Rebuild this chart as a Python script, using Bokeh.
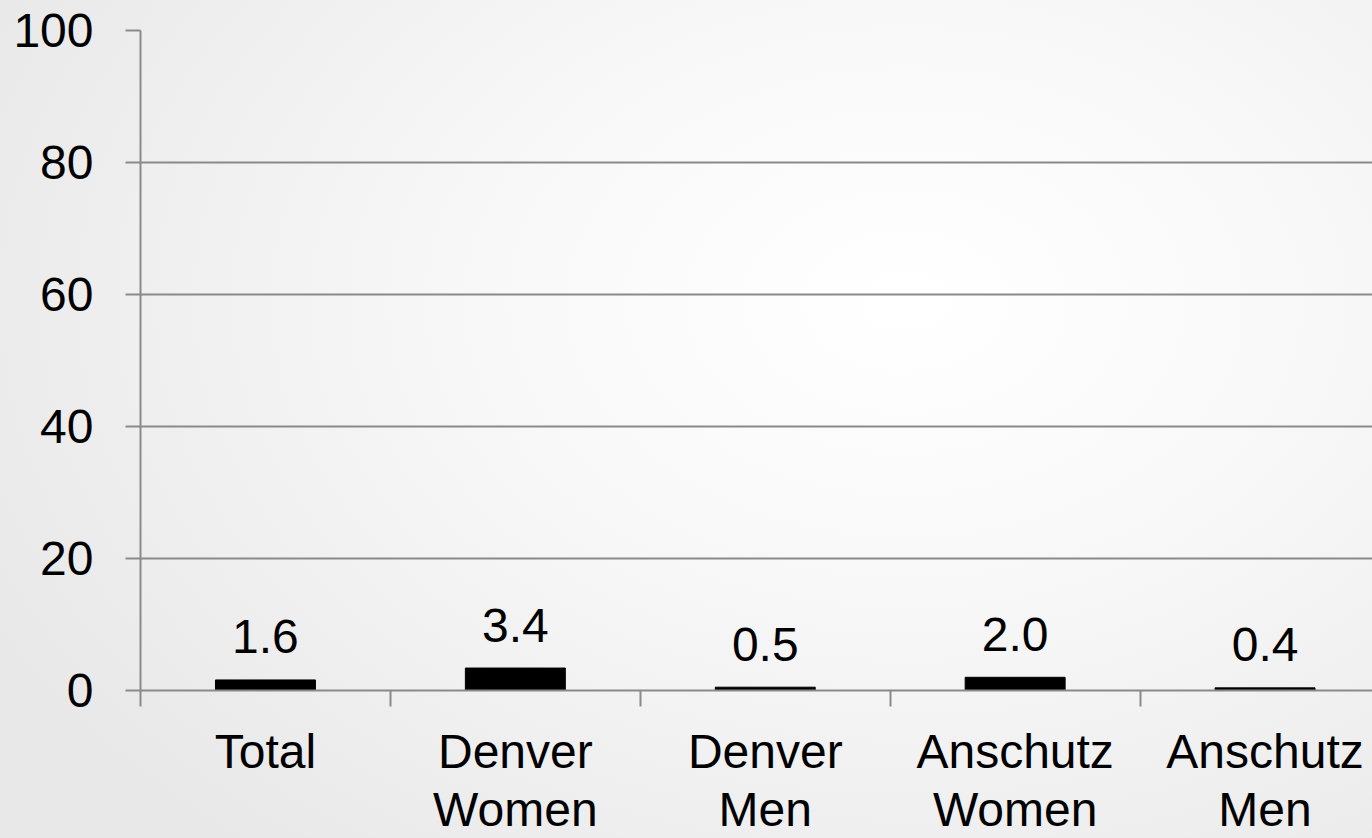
from bokeh.plotting import figure
from bokeh.models import FixedTicker, Range1d, ColumnDataSource
from bokeh.core.properties import value
from bokeh.embed import file_html
from bokeh.resources import INLINE

categories = ["Total", "Denver\nWomen", "Denver\nMen", "Anschutz\nWomen", "Anschutz\nMen"]
values = [1.6, 3.4, 0.5, 2.0, 0.4]
y_ticks = [0, 20, 40, 60, 80, 100]

FONT = "Liberation Sans"
GRID = "#8a8a8a"

idx = list(range(len(categories)))
src = ColumnDataSource(dict(
    x=idx,
    v=values,
    lab=[f"{v:.1f}" for v in values],
))

p = figure(
    width=1372, height=838,
    x_range=Range1d(-0.5, 4.43),
    y_range=Range1d(0, 100),
    output_backend="svg", toolbar_location=None,
    min_border_left=140, min_border_right=0, min_border_top=30, min_border_bottom=144,
)
p.styles = {"background": "radial-gradient(ellipse 75% 85% at 66% 36%, #ffffff 0%, #f8f8f8 40%, #e8e8e8 100%)"}
p.background_fill_color = None
p.border_fill_color = None
p.outline_line_color = None

p.vbar(x="x", top="v", width=0.4, bottom=0, source=src, color="black")
p.text(x="x", y="v", text="lab", source=src, text_align="center", text_baseline="alphabetic",
       y_offset=-43, text_font=value(FONT), text_font_size="48px", text_color="black")

# y axis
yax = p.yaxis[0]
yax.ticker = FixedTicker(ticks=y_ticks)
yax.major_tick_out = 15
yax.major_tick_in = 0
yax.minor_tick_out = 0
yax.minor_tick_in = 0
yax.axis_line_color = GRID
yax.axis_line_width = 2
yax.major_tick_line_color = GRID
yax.major_tick_line_width = 2
yax.major_label_text_font = FONT
yax.major_label_text_font_size = "48px"
yax.major_label_text_color = "black"
yax.major_label_standoff = 32

# x axis
xax = p.xaxis[0]
xax.ticker = FixedTicker(ticks=idx, minor_ticks=[i - 0.5 for i in idx])
xax.major_label_overrides = {i: c for i, c in zip(idx, categories)}
xax.major_tick_out = 0
xax.major_tick_in = 0
xax.minor_tick_out = 16
xax.minor_tick_in = 0
xax.minor_tick_line_color = GRID
xax.minor_tick_line_width = 2
xax.axis_line_color = GRID
xax.axis_line_width = 2
xax.major_label_text_font = FONT
xax.major_label_text_font_size = "48px"
xax.major_label_text_color = "black"
xax.major_label_standoff = 18
xax.major_label_text_line_height = 1.1

p.xgrid.grid_line_color = None
p.ygrid.ticker = FixedTicker(ticks=y_ticks)
p.ygrid.grid_line_color = GRID
p.ygrid.grid_line_width = 2

open("out.html", "w").write(file_html(p, INLINE))
